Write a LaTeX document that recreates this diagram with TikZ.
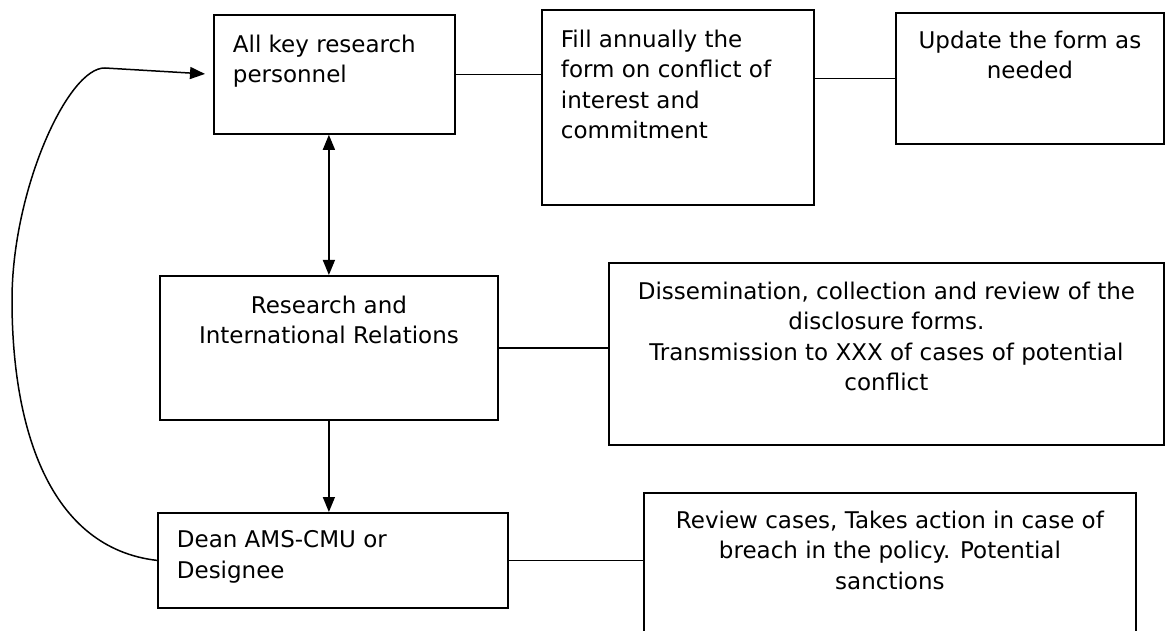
\documentclass[tikz,border=0pt]{standalone}
\usepackage{fontspec}
\setmainfont{DejaVu Sans}
\usetikzlibrary{arrows.meta,calc}

% box contents: width, height, top gap, alignment, lines
\newcommand{\boxtext}[5]{%
  \begin{minipage}[t][#2][t]{#1}\vspace*{#3}#4#5\end{minipage}}
\newcommand{\leftpad}{\raggedright\leftskip=19pt }

\begin{document}
\begin{tikzpicture}[x=1pt,y=-1pt,
    stage/.style={draw, line width=1.8pt, inner sep=0pt, anchor=north west,
      font=\fontsize{23pt}{30.5pt}\selectfont},
    link/.style={line width=1.5pt},
    flow/.style={line width=1.5pt, -{Triangle[length=15pt,width=12pt]}},
    twoway/.style={line width=1.5pt, {Triangle[length=15pt,width=12pt]}-{Triangle[length=15pt,width=12pt]}}]
    \useasboundingbox (0,0) rectangle (1165,631);
    % top row
    \node[stage] (staff) at (213,14)
        {\boxtext{241pt}{119pt}{20pt}{\leftpad}{All key research\\personnel}};
    \node[stage] (fill) at (541,9)
        {\boxtext{272pt}{195pt}{20pt}{\leftpad}{Fill annually the\\form on conflict of\\interest and\\commitment}};
    \node[stage] (update) at (895,12)
        {\boxtext{268pt}{131pt}{18pt}{\centering}{Update the form as\\needed}};
    % middle row
    \node[stage] (rir) at (159,275)
        {\boxtext{338pt}{144pt}{20pt}{\centering}{Research and\\International Relations}};
    \node[stage] (review) at (608,262)
        {\boxtext{555pt}{182pt}{19pt}{\centering}{Dissemination, collection and review of the\\disclosure forms.\\Transmission to XXX of cases of potential\\conflict}};
    % bottom row
    \node[stage] (dean) at (157,512)
        {\boxtext{350pt}{95pt}{18pt}{\leftpad}{Dean AMS-CMU or\\Designee}};
    \node[stage] (action) at (643,492)
        {\boxtext{492pt}{150pt}{18pt}{\centering}{Review cases, Takes action in case of\\breach in the policy. Potential\\sanctions}};
    % connectors
    \draw[link] (staff.east) -- (staff.east -| fill.west);
    \draw[link] (update.west -| fill.east) -- (update.west);
    \draw[link] (rir.east) -- (rir.east -| review.west);
    \draw[link] (dean.east) -- (dean.east -| action.west);
    \draw[twoway] (rir.north) -- (rir.north |- staff.south);
    \draw[flow] (rir.south) -- (rir.south |- dean.north);
    % feedback loop
    \draw[flow, shorten >=8pt] (dean.west) .. controls (50,548) and (12,430) .. (12,300)
        .. controls (12,190) and (68,67) .. (105,68) -- (staff.west);
\end{tikzpicture}
\end{document}
